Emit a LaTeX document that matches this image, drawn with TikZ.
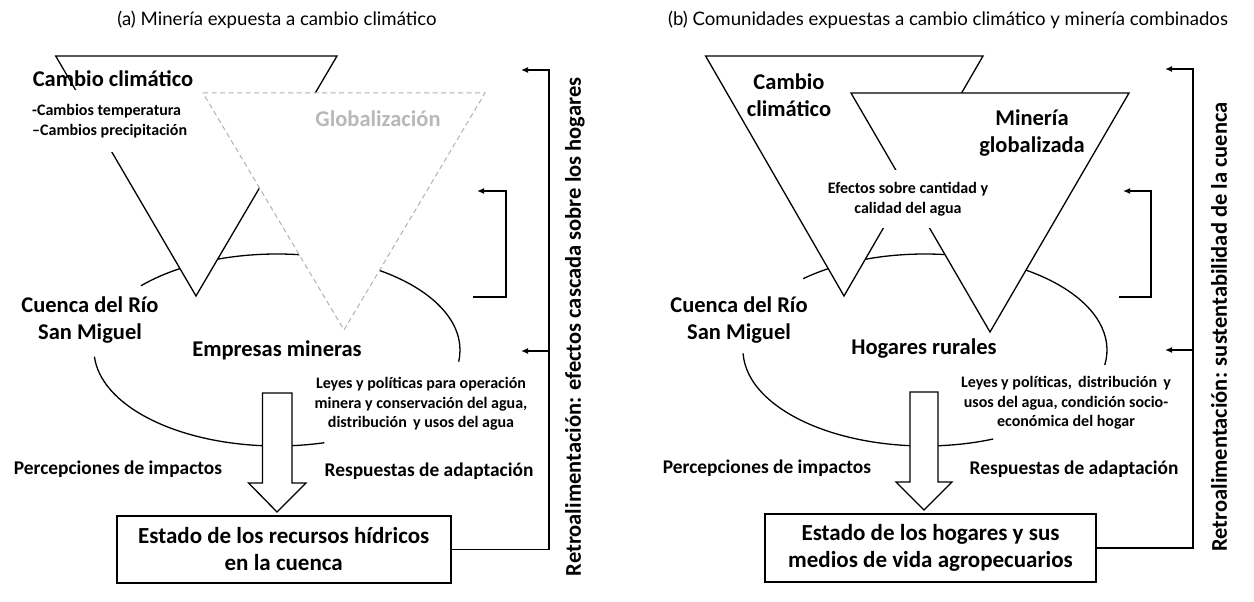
\documentclass[tikz,border=0pt]{standalone}
\usepackage{fontspec}
\setmainfont{Carlito}
\newfontfamily\titlefont{Lato}
\usetikzlibrary{arrows.meta}

\begin{document}
\begin{tikzpicture}[x=1pt,y=-1pt,
  lbl/.style={font=\bfseries\fontsize{22.5}{26.5}\selectfont, align=center, inner sep=0pt},
  small/.style={font=\bfseries\fontsize{16}{19.5}\selectfont, align=center, inner sep=0pt},
  mid/.style={font=\bfseries\fontsize{19.4}{23}\selectfont, inner sep=0pt},
  ttl/.style={font=\titlefont\fontsize{18.6}{22}\selectfont, inner sep=0pt},
  vert/.style={font=\bfseries\fontsize{22.5}{26}\selectfont, rotate=90, inner sep=0pt},
  tri/.style={draw, fill=white, line width=1.3pt},
  oval/.style={line width=1.3pt},
  blk/.style={draw, fill=white, line width=1.3pt},
  estado/.style={draw, line width=1.8pt, align=center, inner sep=0pt,
    font=\bfseries\fontsize{23}{27}\selectfont},
  fb/.style={line width=1.3pt, -{Latex[length=7pt,width=6pt]}}]
\useasboundingbox (0,0) rectangle (1254,602);

% (a) mineria expuesta
\node[ttl] (titleA) at (277,20) {(a) Minería expuesta a cambio climático};

\draw[oval] (277,350) ++(75:183 and 96) arc[start angle=75, end angle=176, x radius=183, y radius=96];
\draw[oval] (277,350) ++(222:183 and 96) arc[start angle=222, end angle=367, x radius=183, y radius=96];

\draw[tri] (55.7,56) -- (337,56) -- (196,296) -- cycle;
\draw[tri, draw=black!30, line width=1pt, dash pattern=on 5pt off 3.5pt] (203,93) -- (485,93) -- (344,330) -- cycle;

\node[lbl] (cambioA) at (113,79) {Cambio climático};
\node[small, fill=white, align=left, anchor=west, minimum height=62, inner xsep=2pt] (varsA) at (30,121)
  {-Cambios temperatura\\–Cambios precipitación};
\node[lbl, text=black!28] (globA) at (378,119) {Globalización};

\node[lbl] (cuencaA) at (90,320) {Cuenca del Río\\San Miguel};
\node[lbl] (empresas) at (277,350) {Empresas mineras};
\node[small] (leyesA) at (421,404) {Leyes y políticas para operación\\minera y conservación del agua,\\distribución\, y usos del agua};

\draw[blk] (262.5,393) -- (292,393) -- (292,483) -- (306,483) -- (277,512) -- (248.6,483) -- (262.5,483) -- cycle;

\node[mid] (percA) at (118,469) {Percepciones de impactos};
\node[mid] (respA) at (429,471) {Respuestas de adaptación};

\node[estado, minimum width=334, minimum height=67] (estadoA) at (283.7,549.5)
  {Estado de los recursos hídricos\\en la cuenca};

\coordinate (railA) at (549,70);
\coordinate (tipA1) at (521,70);
\coordinate (tipA2) at (521,351);
\draw[fb] (estadoA.east) -| (railA) -- (tipA1);
\draw[fb] (railA |- tipA2) -- (tipA2);
\coordinate (brA0) at (473,297);
\coordinate (brA1) at (506,191);
\coordinate (brtipA) at (477,191);
\draw[fb] (brA0) -| (brA1) -- (brtipA);
\node[vert] (retroA) at (575,327) {Retroalimentación: efectos cascada sobre los hogares};

% (b) comunidades expuestas
\node[ttl] (titleB) at (948,20) {(b) Comunidades expuestas a cambio climático y minería combinados};

\draw[oval] (925,350) ++(68:182 and 96) arc[start angle=68, end angle=178, x radius=182, y radius=96];
\draw[oval] (925,350) ++(228:182 and 96) arc[start angle=228, end angle=369, x radius=182, y radius=96];

\draw[tri] (705.6,56) -- (983,56) -- (844,296) -- cycle;
\draw[tri] (851,93) -- (1129,93) -- (990,332) -- cycle;

\node[lbl] (cambioB) at (789,95) {Cambio\\climático};
\node[lbl] (mineriaB) at (1032,133) {Minería\\globalizada};
\node[small, fill=white, minimum height=58, inner xsep=3pt] (efectos) at (908,199)
  {Efectos sobre cantidad y\\calidad del agua};

\node[lbl] (cuencaB) at (739,320) {Cuenca del Río\\San Miguel};
\node[lbl] (hogares) at (924,349) {Hogares rurales};
\node[small] (leyesB) at (1066,403) {Leyes y políticas,\, distribución\, y\\usos del agua, condición socio-\\económica del hogar};

\draw[blk] (910,392) -- (938,392) -- (938,482) -- (952,482) -- (924,510) -- (896,482) -- (910,482) -- cycle;

\node[mid] (percB) at (767,468) {Percepciones de impactos};
\node[mid] (respB) at (1074,469) {Respuestas de adaptación};

\node[estado, minimum width=331, minimum height=68] (estadoB) at (930.5,548)
  {Estado de los hogares y sus\\medios de vida agropecuarios};

\coordinate (railB) at (1193,69);
\coordinate (tipB1) at (1165,69);
\coordinate (tipB2) at (1165,350);
\draw[fb] (estadoB.east) -| (railB) -- (tipB1);
\draw[fb] (railB |- tipB2) -- (tipB2);
\coordinate (brB0) at (1119,297);
\coordinate (brB1) at (1151,191);
\coordinate (brtipB) at (1123,191);
\draw[fb] (brB0) -| (brB1) -- (brtipB);
\node[vert] (retroB) at (1219,327) {Retroalimentación: sustentabilidad de la cuenca};
\end{tikzpicture}
\end{document}
